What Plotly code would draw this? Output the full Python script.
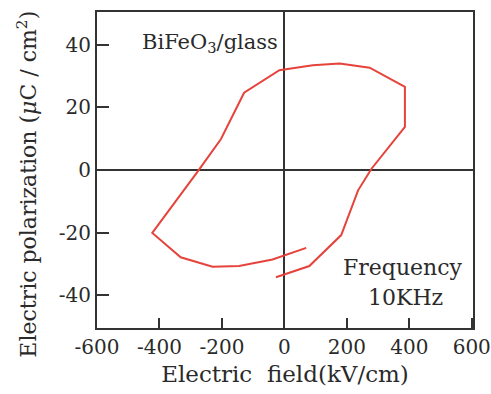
import plotly.graph_objects as go

# Hysteresis loop data (E in kV/cm, P in uC/cm^2)
field_kv_cm = [-27, 80, 182, 236, 279, 386, 386, 273, 177, 91, -16, -129, -203, -279, -423, -332, -230, -145, -38, 70]
polarization = [-34.3, -30.7, -20.8, -6.5, 0.4, 13.8, 26.6, 32.7, 34.0, 33.5, 31.9, 24.7, 9.9, -0.7, -20.1, -27.9, -30.9, -30.7, -28.6, -24.9]

x_ticks = [-600, -400, -200, 0, 200, 400, 600]
y_ticks = [-40, -20, 0, 20, 40]

FONT = "DejaVu Serif"
TXT = "#2a2a2a"
AX = "#333333"

fig = go.Figure()
fig.add_trace(go.Scatter(
    x=field_kv_cm, y=polarization, mode="lines",
    line=dict(color="#e5433b", width=2), showlegend=False,
))

fig.update_layout(
    width=491, height=394,
    margin=dict(l=97, r=18, t=12, b=66),
    paper_bgcolor="white", plot_bgcolor="white",
    font=dict(family=FONT, size=20, color=TXT),
    xaxis=dict(
        range=[-600, 604], tickvals=x_ticks, ticktext=[str(v) for v in x_ticks],
        ticks="inside", ticklen=10, tickwidth=2, tickcolor=AX,
        showline=True, linecolor=AX, linewidth=2, mirror=True, automargin=False,
        showgrid=False, zeroline=True, zerolinecolor=AX, zerolinewidth=2,
        title=dict(text="Electric  field(kV/cm)", font=dict(size=23), standoff=8),
        tickfont=dict(size=20),
    ),
    yaxis=dict(
        range=[-50.5, 50.5], tickvals=y_ticks, ticktext=[str(v) for v in y_ticks],
        ticks="inside", ticklen=12, tickwidth=2, tickcolor=AX,
        showline=True, linecolor=AX, linewidth=2, mirror=True, automargin=False,
        showgrid=False, zeroline=True, zerolinecolor=AX, zerolinewidth=2,
        tickfont=dict(size=20),
    ),
    annotations=[
        dict(text="Electric polarization (<i>μ</i>C / cm<sup>2</sup>)", textangle=-90,
             x=-0.185, y=0.455, xref="paper", yref="paper", xanchor="center", yanchor="middle",
             showarrow=False, font=dict(size=22, color=TXT)),
        dict(text="BiFeO<sub>3</sub>/glass", x=-238, y=40.5, xref="x", yref="y",
             showarrow=False, font=dict(size=21, color=TXT)),
        dict(text="Frequency", x=379, y=-31.3, xref="x", yref="y",
             showarrow=False, font=dict(size=22, color=TXT)),
        dict(text="10KHz", x=389, y=-40.9, xref="x", yref="y",
             showarrow=False, font=dict(size=22, color=TXT)),
    ],
)

fig.write_html("out.html")
